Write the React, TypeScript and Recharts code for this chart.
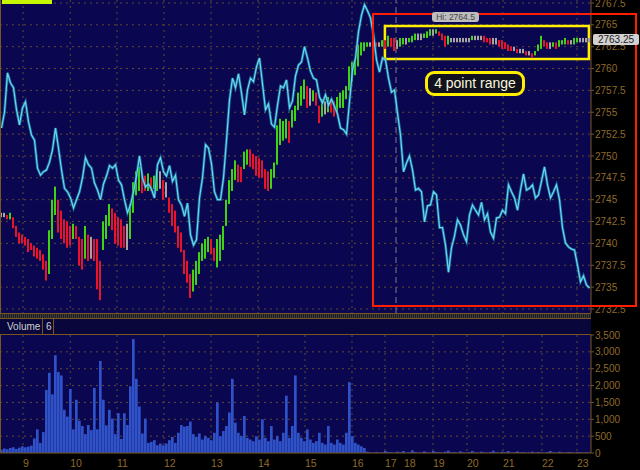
import React from 'react';
import { ComposedChart, Bar, Line, XAxis, YAxis, CartesianGrid, ReferenceArea, ReferenceLine } from 'recharts';

// ---- data (x unit = one 3px bar slot) ----
const cyanSeries = [
  2753.2, 2755.0, 2759.5, 2758.35, 2757.8, 2755.3, 2753.55, 2755.5, 2756.2, 2753.9,
  2752.4, 2751.8, 2748.6, 2747.8, 2748.2, 2748.4, 2749.3, 2750.7, 2753.2, 2750.9,
  2748.4, 2746.3, 2745.9, 2745.2, 2744.05, 2745.0, 2745.9, 2747.5, 2749.8, 2749.0,
  2748.6, 2746.9, 2746.1, 2745.0, 2746.8, 2747.7, 2748.9, 2748.6, 2749.0, 2747.25,
  2746.7, 2745.0, 2743.5, 2744.4, 2745.9, 2747.7, 2750.0, 2747.5, 2746.45, 2746.8,
  2746.2, 2745.2, 2749.0, 2749.8, 2748.2, 2747.7, 2748.9, 2747.1, 2747.8, 2745.0,
  2744.4, 2743.1, 2744.6, 2741.0, 2739.8, 2740.4, 2745.2, 2747.5, 2751.3, 2750.9,
  2749.1, 2745.9, 2745.0, 2745.0, 2747.5, 2751.8, 2756.4, 2758.9, 2757.8, 2759.4,
  2757.2, 2754.7, 2757.55, 2758.9, 2758.5, 2760.2, 2761.2, 2758.25, 2755.3, 2755.95,
  2753.65, 2753.3, 2755.8, 2758.0, 2757.8, 2758.7, 2755.5, 2756.3, 2759.15, 2760.4,
  2760.75, 2762.5, 2761.2, 2759.7, 2758.9, 2758.7, 2756.75, 2756.05, 2757.0, 2755.8,
  2756.5, 2755.7, 2754.8, 2753.2, 2753.0, 2752.5, 2756.2, 2759.85, 2761.2, 2764.2,
  2766.1, 2767.3, 2766.6, 2765.8, 2763.85, 2761.0, 2759.6, 2761.2, 2761.0, 2758.9,
  2757.3, 2757.55, 2754.9, 2752.4, 2748.2, 2749.2, 2750.0, 2748.4, 2746.1, 2746.3,
  2745.9, 2742.45, 2744.3, 2744.4, 2745.9, 2745.55, 2741.8, 2741.8, 2739.8, 2736.7,
  2739.5, 2740.85, 2742.7, 2742.1, 2741.0, 2740.2, 2743.25, 2744.4, 2743.8, 2743.25,
  2744.7, 2742.7, 2743.4, 2741.3, 2740.6, 2742.9, 2743.0, 2743.8, 2743.4, 2746.7,
  2745.9, 2745.2, 2743.8, 2746.1, 2747.95, 2746.1, 2746.3, 2746.7, 2745.2, 2745.55,
  2747.1, 2748.75, 2746.7, 2745.2, 2745.9, 2746.7, 2745.0, 2741.8, 2740.05, 2739.6,
  2739.35, 2739.25, 2737.5, 2735.6, 2736.3, 2735.25, 2734.9,
];

const candleHigh = [
  2743.5, 2743.5, 2743.25, 2743.5, 2743.0, 2742.0, 2741.25, 2741.0, 2740.75, 2740.5,
  2740.0, 2739.75, 2739.5, 2739.25, 2738.75, 2738.0, 2741.5, 2745.0, 2746.5, 2745.0,
  2743.75, 2742.75, 2742.5, 2742.0, 2742.25, 2742.0, 2740.75, 2740.5, 2742.0, 2741.0,
  2740.75, 2740.5, 2740.5, 2738.0, 2742.5, 2743.25, 2744.5, 2744.0, 2743.5, 2743.0,
  2742.75, 2742.0, 2742.25, 2744.5, 2747.0, 2748.25, 2748.75, 2748.25, 2747.75, 2748.0,
  2747.5, 2747.75, 2748.5, 2748.25, 2747.25, 2747.0, 2745.25, 2744.5, 2743.75, 2742.0,
  2741.25, 2739.25, 2738.0, 2736.5, 2737.0, 2738.0, 2739.0, 2740.0, 2740.5, 2740.75,
  2740.5, 2739.5, 2740.5, 2741.0, 2742.0, 2745.0, 2747.25, 2748.5, 2749.5, 2749.0,
  2748.75, 2750.5, 2750.75, 2750.75, 2750.25, 2750.0, 2749.75, 2749.5, 2748.5, 2748.25,
  2748.5, 2749.25, 2753.5, 2754.25, 2754.0, 2754.25, 2754.0, 2755.25, 2755.75, 2757.25,
  2758.0, 2758.75, 2758.0, 2757.75, 2757.5, 2757.25, 2755.75, 2756.5, 2756.25, 2756.75,
  2756.5, 2756.25, 2756.75, 2757.25, 2757.5, 2758.0, 2760.25, 2760.75, 2761.0, 2762.75,
  2763.0, 2763.0, 2763.0, 2763.0, 2763.25, 2763.0, 2763.0, 2763.25, 2763.25, 2763.75,
  2763.5, 2763.5, 2763.25, 2763.5, 2763.5, 2763.5, 2763.5, 2763.75, 2764.0, 2764.0,
  2764.0, 2764.0, 2764.25, 2764.5, 2764.5, 2764.5, 2764.25, 2764.0, 2763.75, 2763.75,
  2763.5, 2763.5, 2763.5, 2763.5, 2763.5, 2763.5, 2763.5, 2763.75, 2763.75, 2763.75,
  2763.75, 2763.75, 2763.5, 2763.5, 2763.5, 2763.5, 2763.25, 2763.25, 2763.0, 2762.75,
  2762.5, 2762.5, 2762.25, 2762.25, 2762.25, 2762.0, 2762.0, 2761.75, 2762.0, 2762.75,
  2763.75, 2763.25, 2763.0, 2763.0, 2763.0, 2763.0, 2763.25, 2763.25, 2763.5, 2763.25,
  2763.25, 2763.5, 2763.5, 2763.5, 2763.5, 2763.5, 2763.5,
];

const candleLow = [
  2743.0, 2743.0, 2742.75, 2742.75, 2741.75, 2740.75, 2740.0, 2740.0, 2739.75, 2739.0,
  2739.25, 2738.5, 2738.25, 2738.0, 2737.0, 2735.75, 2736.5, 2740.5, 2743.25, 2741.25,
  2740.5, 2740.0, 2739.5, 2739.75, 2740.5, 2740.5, 2737.5, 2737.0, 2738.25, 2738.0,
  2738.25, 2738.0, 2734.75, 2733.5, 2739.25, 2740.5, 2742.0, 2741.5, 2740.0, 2739.75,
  2739.5, 2739.5, 2739.25, 2740.5, 2743.5, 2745.5, 2746.0, 2745.75, 2746.0, 2746.0,
  2746.0, 2746.25, 2746.0, 2746.25, 2745.0, 2745.25, 2743.5, 2742.0, 2741.25, 2739.5,
  2739.0, 2736.5, 2735.5, 2733.75, 2734.5, 2735.25, 2736.5, 2738.0, 2738.25, 2739.0,
  2738.75, 2738.0, 2737.25, 2738.0, 2739.25, 2742.0, 2744.5, 2746.0, 2747.25, 2747.0,
  2747.0, 2748.5, 2749.0, 2748.75, 2748.5, 2747.75, 2747.5, 2747.5, 2746.25, 2746.0,
  2746.25, 2747.5, 2749.0, 2751.25, 2751.75, 2752.0, 2751.5, 2753.25, 2754.0, 2755.25,
  2755.75, 2756.5, 2755.5, 2755.75, 2756.25, 2755.75, 2753.75, 2754.5, 2754.75, 2755.0,
  2755.0, 2754.5, 2755.0, 2755.5, 2755.5, 2756.5, 2757.5, 2758.5, 2759.25, 2760.25,
  2761.5, 2762.0, 2762.5, 2762.5, 2762.5, 2762.5, 2762.5, 2762.5, 2762.25, 2762.5,
  2762.5, 2762.0, 2762.25, 2762.5, 2762.75, 2762.75, 2763.0, 2763.0, 2763.25, 2763.25,
  2763.25, 2763.5, 2763.5, 2763.75, 2763.75, 2764.0, 2763.75, 2763.25, 2762.5, 2762.75,
  2763.0, 2763.0, 2763.0, 2763.0, 2763.0, 2763.0, 2763.0, 2763.25, 2763.25, 2763.25,
  2763.25, 2763.0, 2763.0, 2762.75, 2762.75, 2762.75, 2762.5, 2762.25, 2762.25, 2762.0,
  2762.0, 2762.0, 2761.75, 2761.75, 2761.75, 2761.5, 2761.5, 2761.25, 2761.5, 2762.0,
  2762.25, 2762.5, 2762.25, 2762.25, 2762.5, 2762.25, 2762.5, 2762.75, 2762.75, 2762.75,
  2762.75, 2762.75, 2763.0, 2763.0, 2763.0, 2763.0, 2763.0,
];

const volumeSeries = [
  100, 130, 110, 150, 170, 120, 160, 200, 170, 190,
  220, 430, 700, 300, 620, 1870, 2380, 1740, 2900, 2400,
  2300, 1280, 1080, 1900, 700, 1580, 960, 800, 560, 830,
  680, 1930, 700, 2730, 1580, 820, 1280, 1020, 560, 1180,
  420, 1180, 830, 1980, 3380, 2200, 1380, 580, 1020, 300,
  330, 380, 230, 280, 230, 280, 380, 480, 300, 600,
  830, 780, 800, 930, 560, 480, 580, 400, 500, 450,
  380, 600, 1500, 500, 650, 800, 1200, 2200, 900, 600,
  500, 1100, 450, 400, 350, 500, 400, 1000, 450, 350,
  800, 400, 500, 350, 600, 1700, 450, 800, 2300, 600,
  450, 350, 700, 400, 300, 350, 600, 300, 250, 800,
  300, 250, 400, 300, 250, 600, 2100, 500, 300, 250,
  200, 150, 40, 20, 10, 30, 10, 20, 60, 30,
  20, 10, 40, 20, 60, 10, 20, 80, 30, 10,
  20, 50, 20, 10, 60, 30, 20, 10, 40, 70,
  20, 30, 10, 50, 20, 10, 30, 60, 20, 10,
  40, 20, 10, 30, 70, 20, 10, 40, 20, 60,
  10, 20, 50, 20, 30, 10, 20, 40, 10, 30,
  20, 10, 30, 60, 20, 10, 40, 20, 10, 30,
  20, 10, 30, 20, 10, 20, 10,
];

const hourLabels = ['9', '10', '11', '12', '13', '14', '15', '16', '17', '18', '19', '20', '21', '22', '23'];
const hourPositions = [7.67, 23.43, 39, 54.67, 70.33, 86, 101.67, 117.33, 128.33, 134.67, 144.33, 155.67, 167.67, 180.67, 192.33];
const sessionBreak = 132;
const priceTicks = [2732.5, 2735, 2737.5, 2740, 2742.5, 2745, 2747.5, 2750, 2752.5, 2755, 2757.5, 2760, 2762.5, 2765, 2767.5];
const priceDomain = [2732.04, 2767.84];
const volumeTicks = [0, 500, 1000, 1500, 2000, 2500, 3000, 3500];
const rangeBox = { x1: 128.3, x2: 196.3, y1: 2761.1, y2: 2764.87 };
const sessionHigh = 'Hi: 2764.5';
const lastPrice = '2763.25';

// ---- styles ----
const NAVY = '#0a0650';
const GRID = '#5e4a34';
const BROWN = '#7a5522';
const LABEL = '#8f6a2a';
const FONT = 'Liberation Sans, Arial, sans-serif';

const priceRows = cyanSeries.map((v, i) => {
  const mid = (candleHigh[i] + candleLow[i]) / 2;
  const prev = i > 0 ? (candleHigh[i - 1] + candleLow[i - 1]) / 2 : mid;
  const d = mid - prev;
  const color = d > 0.1 ? '#3fd316' : d < -0.1 ? '#e8142c' : '#a9a3a3';
  return { t: i + 0.5, cyan: v, range: [candleLow[i], candleHigh[i]], color };
});

const volRows = volumeSeries.map((v, i) => ({ t: i + 0.5, vol: v }));
const gridPositions = hourPositions.filter((_, k) => hourLabels[k] !== '18');

const CandleShape = (props: any) => {
  const { x, y, width, height, payload } = props;
  if (x == null || y == null) return null;
  const cx = x + width / 2;
  const top = Math.min(y, y + height);
  const h = Math.max(Math.abs(height), 1.5);
  return <rect x={cx - 1} y={top} width={2} height={h} fill={payload.color} />;
};

const HourTick = (props: any) => {
  const { x, y, index } = props;
  return (
    <text x={x} y={y} dy="0.71em" textAnchor="start" fill={LABEL} fontSize={10.5} fontFamily={FONT}>
      {hourLabels[index]}
    </text>
  );
};

export default function App() {
  return (
    <div style={{ position: 'absolute', left: 0, top: 0, width: 640, height: 470, background: '#000', overflow: 'hidden', fontFamily: FONT }}>
      <div style={{ position: 'absolute', left: 0, top: 0 }}>
        <ComposedChart width={640} height={313} data={priceRows} margin={{ top: 0, right: 0, bottom: 0, left: 0 }}>
          <CartesianGrid fill={NAVY} stroke={GRID} strokeDasharray="2 4" horizontalValues={priceTicks} verticalValues={gridPositions} />
          <XAxis type="number" dataKey="t" domain={[0, 197]} hide allowDataOverflow />
          <YAxis
            orientation="right"
            type="number"
            domain={priceDomain}
            ticks={priceTicks}
            interval={0}
            allowDataOverflow
            width={49}
            tickSize={3}
            tickMargin={1}
            axisLine={{ stroke: BROWN }}
            tickLine={{ stroke: BROWN }}
            tick={{ fill: LABEL, fontSize: 10, fontFamily: FONT }}
          />
          <ReferenceLine x={sessionBreak} stroke="#7c7c88" strokeDasharray="6 4" />
          <Bar dataKey="range" barSize={2} shape={CandleShape} isAnimationActive={false} />
          <Line type="linear" dataKey="cyan" stroke="#1d8cb3" strokeWidth={2.8} strokeOpacity={0.7} dot={false} activeDot={false} isAnimationActive={false} />
          <Line type="linear" dataKey="cyan" stroke="#6ad8ec" strokeWidth={1.2} dot={false} activeDot={false} isAnimationActive={false} />
          <ReferenceArea x1={rangeBox.x1} x2={rangeBox.x2} y1={rangeBox.y1} y2={rangeBox.y2} fill="none" fillOpacity={0} stroke="#ffee00" strokeWidth={2.5} />
        </ComposedChart>
      </div>

      {/* separator + volume header */}
      <div style={{ position: 'absolute', left: 0, top: 313, width: 591, height: 6, boxSizing: 'border-box', borderTop: `1px solid ${BROWN}`, borderBottom: `1px solid ${BROWN}`, background: 'repeating-linear-gradient(90deg,#3c3c3c 0 1px,#1e1e1e 1px 2px)' }} />
      <div style={{ position: 'absolute', left: 0, top: 319, width: 591, height: 16, boxSizing: 'border-box', borderBottom: `1px solid ${BROWN}`, background: '#08063a' }}>
        <span style={{ position: 'absolute', left: 7, top: 2, fontSize: 10, color: '#cfcfcf', fontFamily: FONT }}>Volume</span>
        <div style={{ position: 'absolute', left: 42, top: 0, width: 1, height: 15, background: BROWN }} />
        <span style={{ position: 'absolute', left: 46, top: 2, fontSize: 10, color: '#cfcfcf', fontFamily: FONT }}>6</span>
        <div style={{ position: 'absolute', left: 53, top: 0, width: 1, height: 15, background: BROWN }} />
      </div>

      <div style={{ position: 'absolute', left: 0, top: 329 }}>
        <ComposedChart width={640} height={141} data={volRows} margin={{ top: 6, right: 0, bottom: 0, left: 0 }}>
          <CartesianGrid fill={NAVY} stroke={GRID} strokeDasharray="2 4" horizontalValues={[500, 1000, 1500, 2000, 2500, 3000]} verticalValues={gridPositions} />
          <XAxis
            type="number"
            dataKey="t"
            domain={[0, 197]}
            ticks={hourPositions}
            interval={0}
            allowDataOverflow
            height={17}
            tickSize={0}
            tickMargin={7}
            axisLine={{ stroke: BROWN }}
            tickLine={false}
            tick={<HourTick />}
          />
          <YAxis
            orientation="right"
            type="number"
            domain={[0, 3500]}
            ticks={volumeTicks}
            interval={0}
            allowDataOverflow
            width={49}
            tickSize={3}
            tickMargin={1}
            axisLine={{ stroke: BROWN }}
            tickLine={{ stroke: BROWN }}
            tickFormatter={(v: number) => v.toLocaleString('en-US')}
            tick={{ fill: LABEL, fontSize: 10, fontFamily: FONT }}
          />
          <Bar dataKey="vol" barSize={3} fill="#3052c8" isAnimationActive={false} />
        </ComposedChart>
      </div>

      {/* borders */}
      <div style={{ position: 'absolute', left: 0, top: 0, width: 1, height: 313, background: BROWN }} />
      <div style={{ position: 'absolute', left: 0, top: 335, width: 1, height: 118, background: BROWN }} />

      {/* annotations */}
      <div style={{ position: 'absolute', left: 2, top: 0, width: 50, height: 4, background: '#c8f500' }} />
      <div style={{ position: 'absolute', left: 372, top: 13, width: 265, height: 294, boxSizing: 'border-box', border: '2.5px solid #ff1e00' }} />
      <div style={{ position: 'absolute', left: 425, top: 71, width: 100, height: 25, boxSizing: 'border-box', border: '3px solid #ffee00', borderRadius: 9, background: '#12121e', color: '#f6f6da', fontSize: 14, lineHeight: '19px', textAlign: 'center', fontFamily: FONT }}>4 point range</div>
      <div style={{ position: 'absolute', left: 432, top: 12, width: 47, height: 10, borderRadius: 3, background: '#bdbdbd', color: '#454545', fontSize: 8.5, lineHeight: '10px', textAlign: 'center', fontFamily: FONT }}>{sessionHigh}</div>
      <div style={{ position: 'absolute', left: 593, top: 34, width: 46, height: 11, borderRadius: 2, background: '#d2d2d2', color: '#1a1a1a', fontSize: 10, lineHeight: '11px', textAlign: 'center', fontFamily: FONT }}>{lastPrice}</div>
    </div>
  );
}
